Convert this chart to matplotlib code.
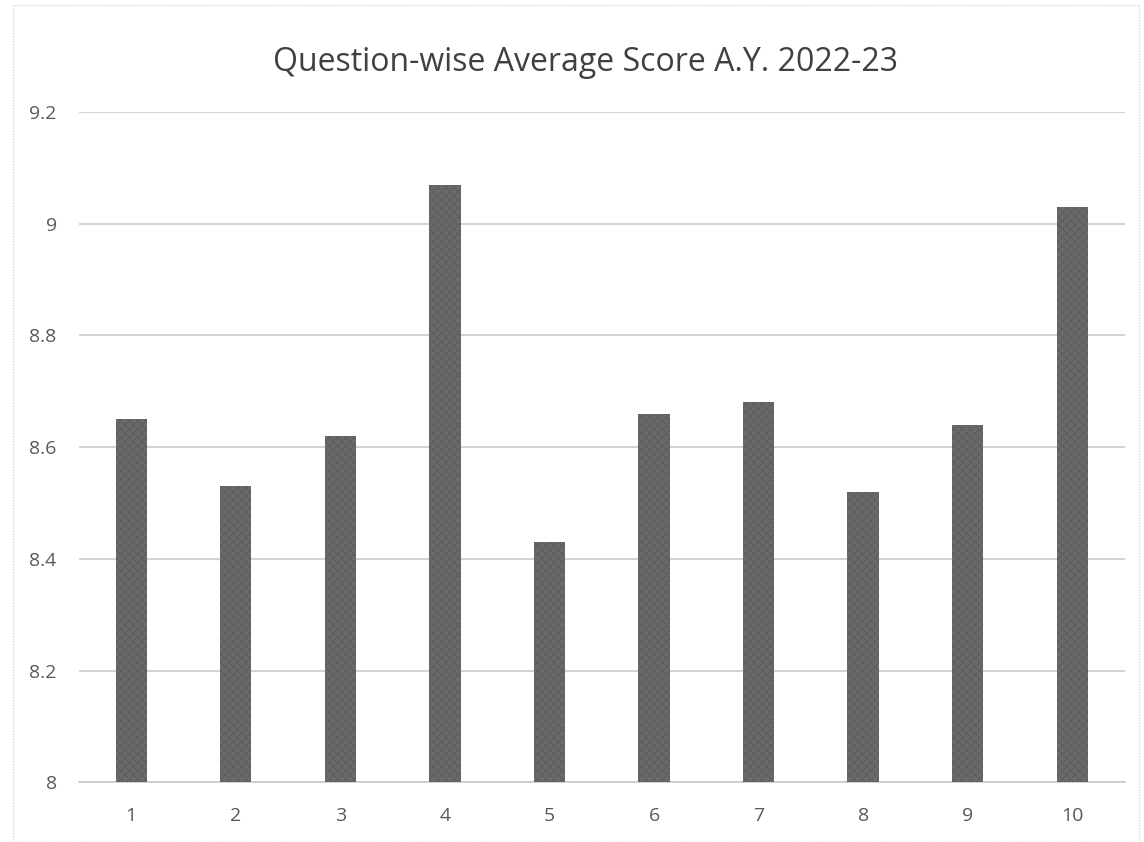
import matplotlib.pyplot as plt
from matplotlib.patches import Rectangle

# data
questions = ["1", "2", "3", "4", "5", "6", "7", "8", "9", "10"]
avg_scores = [8.65, 8.53, 8.62, 9.07, 8.43, 8.66, 8.68, 8.52, 8.64, 9.03]
y_ticks = [8, 8.2, 8.4, 8.6, 8.8, 9, 9.2]
y_labels = ["8", "8.2", "8.4", "8.6", "8.8", "9", "9.2"]

plt.rcParams['font.family'] = ['Open Sans', 'DejaVu Sans']
text_color = "#595959"

fig = plt.figure(figsize=(11.44, 8.42), dpi=100)
ax = fig.add_axes([0.069, 0.071, 0.914, 0.796])

# faint chart border like the scanned original
fig.patches.append(Rectangle((0.011, 0.0), 0.985, 0.994, transform=fig.transFigure,
                             fill=False, edgecolor="#d9d9d9", lw=1.0, ls=(0, (1, 1))))

x = list(range(len(questions)))
ax.bar(x, avg_scores, width=0.30, color="#6a6a6a", edgecolor="#606060",
       hatch="xxxx", linewidth=0, zorder=3)

ax.set_ylim(8, 9.2)
ax.set_xlim(-0.5, len(questions) - 0.5)
ax.set_yticks(y_ticks)
ax.set_yticklabels(y_labels)
ax.set_xticks(x)
ax.set_xticklabels(questions)
ax.tick_params(axis="both", length=0, labelsize=14, colors=text_color)
ax.tick_params(axis="x", pad=18)
ax.tick_params(axis="y", pad=16)

ax.grid(axis="y", color="#c9c9c9", lw=1.2, zorder=0)
for s in ["top", "right", "left"]:
    ax.spines[s].set_visible(False)
ax.spines["bottom"].set_color("#c9c9c9")
ax.spines["bottom"].set_linewidth(1.2)

fig.text(0.512, 0.926, "Question-wise Average Score A.Y. 2022-23", ha="center",
         va="center", fontsize=23, color="#404040")

plt.savefig("out.png", dpi=100)
